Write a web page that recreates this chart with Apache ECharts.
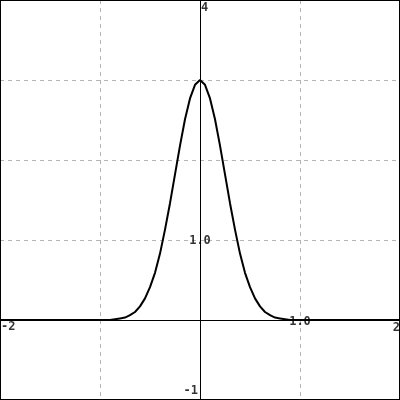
<!DOCTYPE html>
<html>
<head>
<meta charset="utf-8">
<script src="https://cdn.jsdelivr.net/npm/echarts@6/dist/echarts.min.js"></script>
<style>
html,body{margin:0;padding:0;background:#fff;}
#wrap{position:relative;width:400px;height:400px;}
#c{width:400px;height:400px;}
#frame{position:absolute;left:0;top:0;width:398px;height:398px;border:1px solid #000;pointer-events:none;}
</style>
</head>
<body>
<div id="wrap"><div id="c"></div><div id="frame"></div></div>
<script>
// Curve samples
var xValues = [-2, -1, -0.9, -0.85, -0.8, -0.75, -0.7, -0.65, -0.6, -0.55, -0.5, -0.45, -0.4, -0.35, -0.3, -0.25, -0.2, -0.15, -0.1, -0.05,
  0, 0.05, 0.1, 0.15, 0.2, 0.25, 0.3, 0.35, 0.4, 0.45, 0.5, 0.55, 0.6, 0.65, 0.7, 0.75, 0.8, 0.85, 0.9, 1, 2];
var yValues = [0, 0, 0.00, 0.01, 0.02, 0.03, 0.06, 0.10, 0.17, 0.27, 0.41, 0.59, 0.83, 1.13, 1.46, 1.82, 2.18, 2.51, 2.77, 2.94,
  3.00, 2.94, 2.77, 2.51, 2.18, 1.82, 1.46, 1.13, 0.83, 0.59, 0.41, 0.27, 0.17, 0.10, 0.06, 0.03, 0.02, 0.01, 0.00, 0, 0];

// Tick labels shown on the axes
var xTickValues = [-2, 1, 2];
var xTickLabels = ['-2', '1.0', '2'];
var yTickValues = [-1, 1, 4];
var yTickLabels = ['-1', '1.0', '4'];

var xMin = -2, xMax = 2, yMin = -1, yMax = 4;

var curve = xValues.map(function (x, i) { return [x, yValues[i]]; });

var font = {fontFamily: 'DejaVu Sans Mono', fontWeight: 'bold', fontSize: 12, color: '#000'};
function lbl(extra) { return Object.assign({show: true}, font, extra); }

var xLabelStyles = [
  {position: [1, 1], align: 'left', verticalAlign: 'top'},
  {position: [0, 2], align: 'center', verticalAlign: 'middle'},
  {position: [0, 2], align: 'right', verticalAlign: 'top'}
];
var yLabelStyles = [
  {position: [-2, -3], align: 'right', verticalAlign: 'bottom'},
  {position: [0, 1], align: 'center', verticalAlign: 'middle'},
  {position: [1, 2], align: 'left', verticalAlign: 'top'}
];

var labelData = [];
xTickValues.forEach(function (v, i) {
  labelData.push({value: [v, 0], name: xTickLabels[i], label: lbl(xLabelStyles[i])});
});
yTickValues.forEach(function (v, i) {
  labelData.push({value: [0, v], name: yTickLabels[i], label: lbl(yLabelStyles[i])});
});

var chart = echarts.init(document.getElementById('c'), null, {renderer: 'canvas'});
chart.setOption({
  animation: false,
  backgroundColor: '#fff',
  grid: {left: 0, right: 0, top: 0, bottom: 0, show: false, containLabel: false},
  xAxis: {
    type: 'value', min: xMin, max: xMax, interval: 1,
    axisLine: {show: true, onZero: true, lineStyle: {color: '#000', width: 1}},
    axisTick: {show: false}, axisLabel: {show: false},
    splitLine: {show: true, showMinLine: false, showMaxLine: false, lineStyle: {color: '#b4b4b4', width: 1, type: [4, 4]}}
  },
  yAxis: {
    type: 'value', min: yMin, max: yMax, interval: 1,
    axisLine: {show: true, onZero: true, lineStyle: {color: '#000', width: 1}},
    axisTick: {show: false}, axisLabel: {show: false},
    splitLine: {show: true, showMinLine: false, showMaxLine: false, lineStyle: {color: '#b4b4b4', width: 1, type: [4, 4]}}
  },
  series: [
    {
      type: 'line', data: curve, symbol: 'none', smooth: false,
      lineStyle: {color: '#000', width: 2}, z: 3, clip: false
    },
    {
      type: 'scatter', data: labelData, symbolSize: 0, z: 5,
      label: {show: true, formatter: function (p) { return p.name; }},
      clip: false
    }
  ]
});
</script>
</body>
</html>
